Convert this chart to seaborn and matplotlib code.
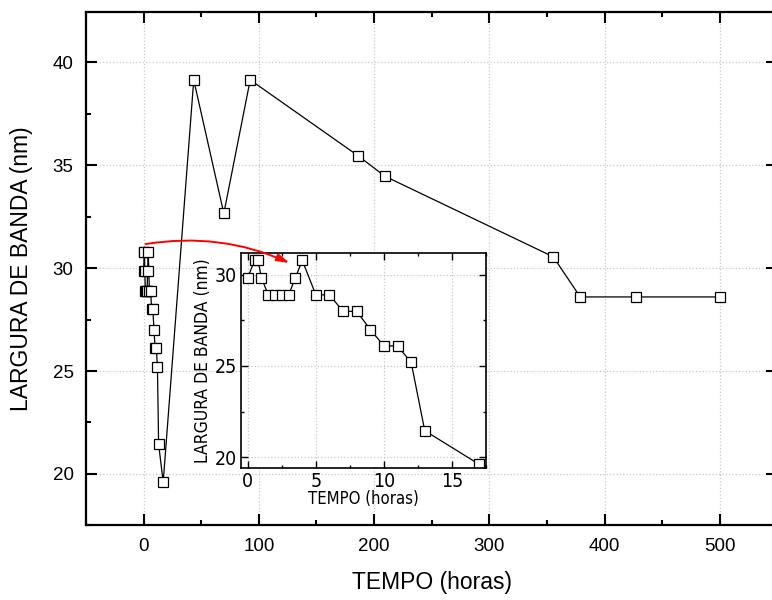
import numpy as np
import pandas as pd
import matplotlib
matplotlib.use("Agg")
import matplotlib.pyplot as plt
import seaborn as sns
from matplotlib.ticker import MultipleLocator
from matplotlib import font_manager

# Data
tempo_horas = [0, 0.5, 0.75, 1, 1.5, 2, 2.5, 3, 3.5, 4, 5, 6, 7, 8, 9, 10, 11, 12, 13, 17,
               43.5, 69.6, 92.5, 186.4, 209.3, 355.5, 378.9, 427.4, 500]
largura_nm = [29.85, 30.8, 30.8, 29.85, 28.9, 28.9, 28.9, 28.9, 29.85, 30.8, 28.9, 28.9,
              28.0, 28.0, 27.0, 26.1, 26.1, 25.2, 21.45, 19.6,
              39.15, 32.66, 39.15, 35.45, 34.47, 30.55, 28.6, 28.6, 28.6]
inset_max_horas = 17

sns.set_style("ticks")
plt.rcParams['font.family'] = ['Liberation Sans', 'DejaVu Sans']
for k in ['text.color', 'axes.labelcolor', 'xtick.color', 'ytick.color', 'axes.edgecolor']:
    plt.rcParams[k] = 'black'

# condensed face for the inset text, if one is installed
cond = [f for f in font_manager.fontManager.ttflist
        if 'condensed' in str(f.stretch).lower() or 'Narrow' in f.name or 'Condensed' in f.name]
if cond:
    inset_family, inset_stretch = cond[0].name, cond[0].stretch
else:
    inset_family, inset_stretch = 'Liberation Sans', 'normal'

df = pd.DataFrame({'tempo': tempo_horas, 'largura': largura_nm})
df_in = df[df['tempo'] <= inset_max_horas]

fig = plt.figure(figsize=(7.72, 6.0), dpi=100)
ax = fig.add_axes([86 / 772, 1 - 525.3 / 600, (777.4 - 86) / 772, (525.3 - 12) / 600])

line_kw = dict(color='black', linewidth=0.9, marker='s', markerfacecolor='white',
               markeredgecolor='black', markeredgewidth=0.9, sort=False, estimator=None)

# main plot
sns.lineplot(data=df, x='tempo', y='largura', ax=ax, markersize=7, **line_kw)
ax.set_xlim(-50, 550)
ax.set_ylim(17.5, 42.45)
ax.xaxis.set_major_locator(MultipleLocator(100))
ax.xaxis.set_minor_locator(MultipleLocator(50))
ax.yaxis.set_major_locator(MultipleLocator(5))
ax.yaxis.set_minor_locator(MultipleLocator(2.5))
ax.grid(True, which='major', linestyle=':', color='#c8c8c8', linewidth=0.9)
ax.tick_params(which='both', direction='in', top=True, right=True, width=1.5,
               labelsize=13.5, pad=9)
ax.tick_params(which='major', length=7.7)
ax.tick_params(which='minor', length=3.8)
for s in ax.spines.values():
    s.set_linewidth(1.6)
    s.set_visible(True)
ax.set_xlabel('TEMPO (horas)', fontsize=16.5, labelpad=12)
ax.set_ylabel('LARGURA DE BANDA (nm)', fontsize=16.5, labelpad=14)

# inset
axin = fig.add_axes([241 / 772, 1 - 468 / 600, 245 / 772, 215 / 600])
sns.lineplot(data=df_in, x='tempo', y='largura', ax=axin, markersize=6.5, **line_kw)
axin.set_xlim(-0.5, 17.5)
axin.set_ylim(19.4, 31.2)
axin.xaxis.set_major_locator(MultipleLocator(5))
axin.xaxis.set_minor_locator(MultipleLocator(2.5))
axin.yaxis.set_major_locator(MultipleLocator(5))
axin.yaxis.set_minor_locator(MultipleLocator(2.5))
axin.grid(True, which='major', linestyle=':', color='#c8c8c8', linewidth=0.9)
axin.tick_params(which='both', direction='in', top=True, right=True, width=1.0, pad=3)
axin.tick_params(which='major', length=5)
axin.tick_params(which='minor', length=2.5)
for lab in axin.get_xticklabels() + axin.get_yticklabels():
    lab.set_family(inset_family)
    lab.set_stretch(inset_stretch)
    lab.set_fontsize(14)
for s in axin.spines.values():
    s.set_linewidth(1.2)
axin.set_xlabel('TEMPO (horas)', fontsize=12, family=inset_family, stretch=inset_stretch, labelpad=-1)
axin.set_ylabel('LARGURA DE BANDA (nm)', fontsize=12.5, family=inset_family, stretch=inset_stretch, labelpad=2)

# red curved arrow from the early points to the inset, drawn above the inset
axin.annotate('', xy=(126.6, 30.25), xytext=(1.7, 31.17),
              xycoords=ax.transData, textcoords=ax.transData, annotation_clip=False,
              arrowprops=dict(arrowstyle='-|>,head_length=0.75,head_width=0.22',
                              color='red', lw=1.4, connectionstyle='arc3,rad=-0.15',
                              shrinkA=0, shrinkB=0))

fig.savefig('out.png', dpi=100)
